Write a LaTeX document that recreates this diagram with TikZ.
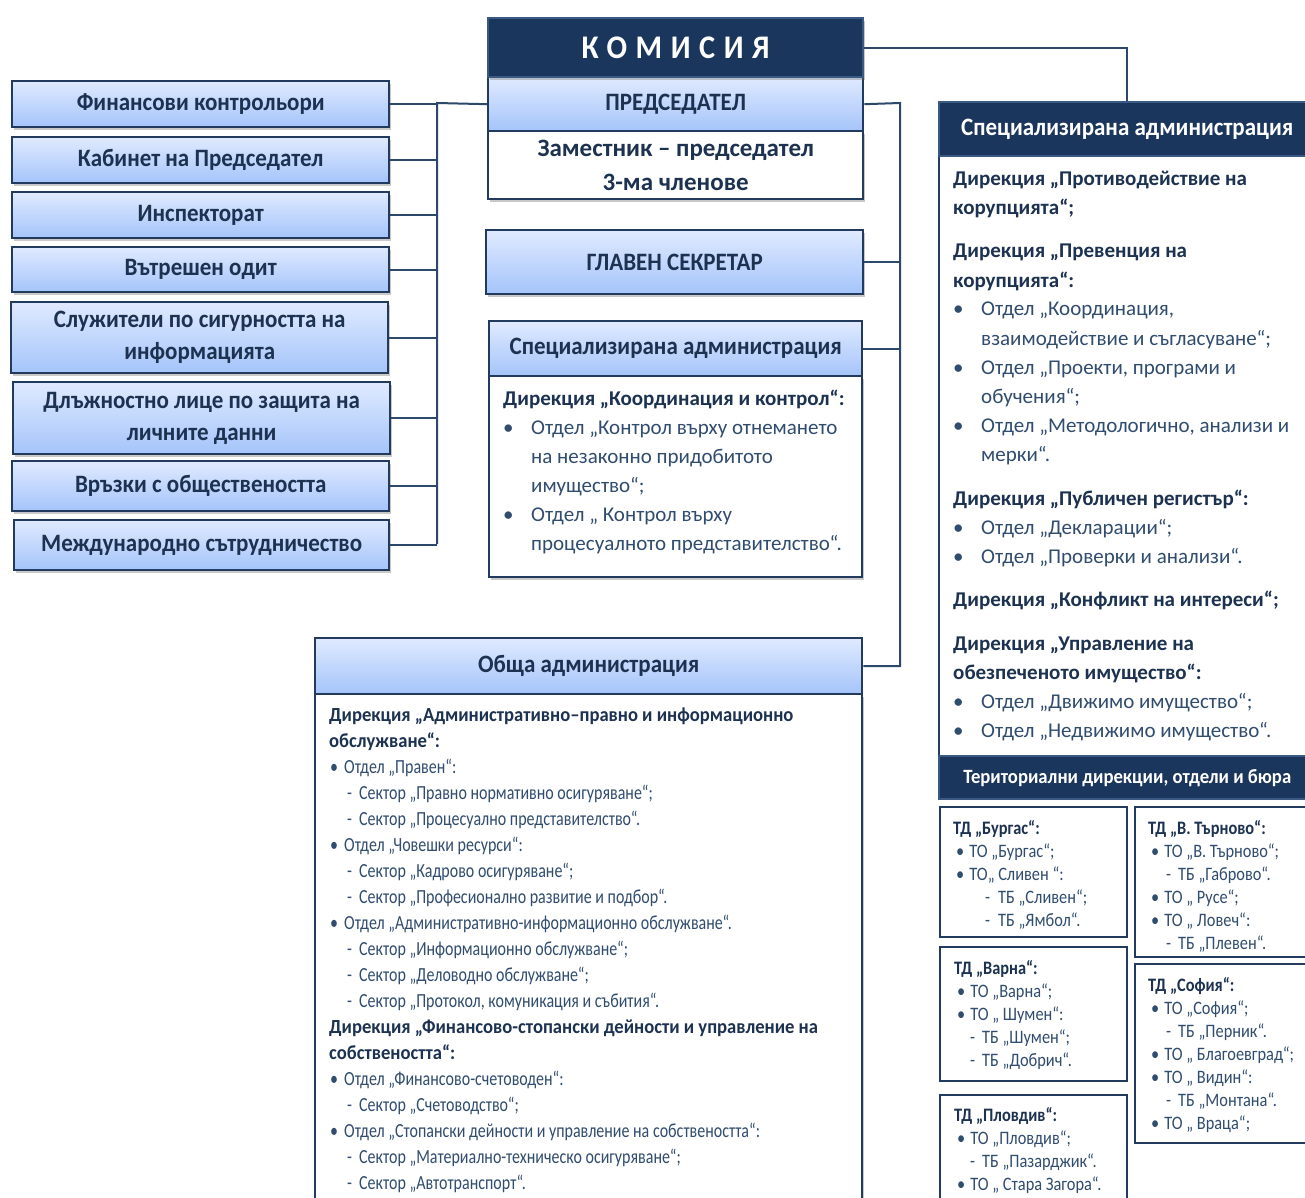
\documentclass[tikz,border=0pt]{standalone}
\usepackage{fontspec}
\setmainfont{Carlito}
\newfontfamily\condA{Carlito}[FakeStretch=0.8]
\newfontfamily\condB{Carlito}[FakeStretch=0.86]
\newfontfamily\headf{Carlito}[FakeStretch=0.92]
\newfontfamily\boldA{Carlito}[FakeStretch=0.93]
\usetikzlibrary{shadows}
\definecolor{navy}{RGB}{27,54,93}
\definecolor{navyedge}{RGB}{58,90,132}
\definecolor{edge}{RGB}{33,58,94}
\definecolor{ink}{RGB}{28,50,80}
\definecolor{soft}{RGB}{48,76,110}
\definecolor{gtop}{RGB}{224,234,255}
\definecolor{gbot}{RGB}{164,196,250}
\definecolor{wirec}{RGB}{44,72,106}
\newcommand{\tbul}[1]{\hspace*{#1}\textbullet}
\newcommand{\spb}{\hspace*{0pt}\makebox[28pt][l]{•}}
\newcommand{\obl}{\hspace*{1pt}\makebox[14pt][l]{•}}
\newcommand{\odl}{\hspace*{18pt}\makebox[12pt][l]{-}}
\begin{document}
\begin{tikzpicture}[x=1pt,y=-1pt,
 sh/.style={drop shadow={shadow xshift=1.5pt,shadow yshift=-3pt,opacity=0.35,fill=black!60}},
 gbox/.style={draw=edge,line width=2.4pt,top color=gtop,bottom color=gbot,text=ink,anchor=north west,inner sep=0pt,align=center,font=\headf\bfseries\fontsize{25}{32}\selectfont},
 nbox/.style={draw=navyedge,line width=2.4pt,fill=navy,text=white,anchor=north west,inner sep=0pt,align=center,font=\headf\bfseries\fontsize{25}{32}\selectfont},
 wbox/.style={draw=edge,line width=2.4pt,fill=white,anchor=north west,inner sep=0pt,align=center},
 txt/.style={anchor=base west,inner sep=0pt,text=soft},
 wire/.style={draw=wirec,line width=2pt}]
\useasboundingbox (0,0) rectangle (1305,1198);
\fill[white] (0,0) rectangle (1305,1198);
\clip (0,0) rectangle (1305,1198);

% left column
\node[gbox,sh,minimum width=377pt,minimum height=46pt] (fin) at (11,80) {Финансови контрольори};
\node[gbox,sh,minimum width=377pt,minimum height=46pt] (kab) at (11,136) {Кабинет на Председател};
\node[gbox,sh,minimum width=377pt,minimum height=46pt] (insp) at (11,191) {Инспекторат};
\node[gbox,sh,minimum width=377pt,minimum height=45pt] (odit) at (11,246) {Вътрешен одит};
\node[gbox,sh,minimum width=377pt,minimum height=71pt] (sig) at (10,301) {Служители по сигурността на\\информацията};
\node[gbox,sh,minimum width=377pt,minimum height=72pt] (dpo) at (12,381) {Длъжностно лице по защита на\\личните данни};
\node[gbox,sh,minimum width=377pt,minimum height=50pt] (pr) at (11,460) {Връзки с обществеността};
\node[gbox,sh,minimum width=375pt,minimum height=50pt] (mez) at (13,519) {Международно сътрудничество};

% centre stack
\node[wbox,sh,minimum width=375pt,minimum height=68pt,text=ink,font=\bfseries\fontsize{25}{34}\selectfont] (zam) at (487,130) {Заместник – председател\\3-ма членове};
\node[gbox,minimum width=375pt,minimum height=54pt] (pred) at (487,76) {ПРЕДСЕДАТЕЛ};
\node[nbox,sh,minimum width=375pt,minimum height=59pt,font=\headf\bfseries\fontsize{33}{36}\selectfont] (kom) at (487,17) {\addfontfeature{LetterSpace=26}КОМИСИЯ};

\node[gbox,sh,minimum width=377pt,minimum height=64pt] (gs) at (485,229) {ГЛАВЕН СЕКРЕТАР};

\node[wbox,sh,minimum width=373pt,minimum height=201pt] (spmb) at (488,375) {};
\node[gbox,minimum width=373pt,minimum height=55pt] (spmh) at (488,320) {Специализирана администрация};
\node[txt,font=\fontsize{21}{29}\selectfont] (spmt) at (503,405) {\parbox[t]{350pt}{\leavevmode\raggedright
{\bfseries\color{ink}Дирекция „Координация и контрол“:}\\
\spb Отдел „Контрол върху отнемането\\
\hspace*{28pt}на незаконно придобитото\\
\hspace*{28pt}имущество“;\\
\spb Отдел „ Контрол върху\\
\hspace*{28pt}процесуалното представителство“.}};

% right column
\node[wbox,minimum width=376pt,minimum height=600pt] (sprb) at (938,155) {};
\node[nbox,minimum width=376pt,minimum height=54pt] (sprh) at (938,101) {Специализирана администрация};
\node[txt,font=\fontsize{21}{29}\selectfont] (sprt) at (953,186) {\parbox[t]{350pt}{\leavevmode\raggedright
{\bfseries\color{ink}Дирекция „Противодействие на\\корупцията“;}\\[14pt]
{\bfseries\color{ink}Дирекция „Превенция на\\корупцията“:}\\
\spb Отдел „Координация,\\
\hspace*{28pt}взаимодействие и съгласуване“;\\
\spb Отдел „Проекти, програми и\\
\hspace*{28pt}обучения“;\\
\spb Отдел „Методологично, анализи и\\
\hspace*{28pt}мерки“.\\[15pt]
{\bfseries\color{ink}Дирекция „Публичен регистър“:}\\
\spb Отдел „Декларации“;\\
\spb Отдел „Проверки и анализи“.\\[14pt]
{\bfseries\color{ink}Дирекция „Конфликт на интереси“;}\\[15pt]
{\bfseries\color{ink}Дирекция „Управление на\\обезпеченото имущество“:}\\
\spb Отдел „Движимо имущество“;\\
\spb Отдел „Недвижимо имущество“.}};

\node[nbox,minimum width=376pt,minimum height=43pt,font=\headf\bfseries\fontsize{20.3}{24}\selectfont] (terh) at (938,755) {Териториални дирекции, отдели и бюра};

\node[wbox,minimum width=187pt,minimum height=130pt] (bur) at (939,806) {};
\node[wbox,minimum width=185pt,minimum height=150pt] (vt) at (1134,806) {};
\node[wbox,minimum width=187pt,minimum height=134pt] (var) at (939,946) {};
\node[wbox,minimum width=185pt,minimum height=179pt] (sof) at (1134,963) {};
\node[wbox,minimum width=187pt,minimum height=130pt] (plo) at (939,1094) {};

\node[txt,font=\condB\fontsize{19}{23}\selectfont] (burt) at (953,834) {\parbox[t]{170pt}{\leavevmode\raggedright
{\bfseries\color{ink}ТД „Бургас“:}\\
\tbul{3pt}\hspace{5pt}ТО „Бургас“;\\
\tbul{3pt}\hspace{5pt}ТО„ Сливен “:\\
\hspace*{32pt}-\hspace{8pt}ТБ „Сливен“;\\
\hspace*{32pt}-\hspace{8pt}ТБ „Ямбол“.}};
\node[txt,font=\condB\fontsize{19}{23}\selectfont] (vtt) at (1148,834) {\parbox[t]{170pt}{\leavevmode\raggedright
{\bfseries\color{ink}ТД „В. Търново“:}\\
\tbul{3pt}\hspace{5pt}ТО „В. Търново“;\\
\hspace*{18pt}-\hspace{7pt}ТБ „Габрово“.\\
\tbul{3pt}\hspace{5pt}ТО „ Русе“;\\
\tbul{3pt}\hspace{5pt}ТО „ Ловеч“:\\
\hspace*{18pt}-\hspace{7pt}ТБ „Плевен“.}};
\node[txt,font=\condB\fontsize{19}{23}\selectfont] (vart) at (954,974) {\parbox[t]{170pt}{\leavevmode\raggedright
{\bfseries\color{ink}ТД „Варна“:}\\
\tbul{3pt}\hspace{5pt}ТО „Варна“;\\
\tbul{3pt}\hspace{5pt}ТО „ Шумен“:\\
\hspace*{16pt}-\hspace{7pt}ТБ „Шумен“;\\
\hspace*{16pt}-\hspace{7pt}ТБ „Добрич“.}};
\node[txt,font=\condB\fontsize{19}{23}\selectfont] (soft) at (1148,991) {\parbox[t]{170pt}{\leavevmode\raggedright
{\bfseries\color{ink}ТД „София“:}\\
\tbul{3pt}\hspace{5pt}ТО „София“;\\
\hspace*{18pt}-\hspace{7pt}ТБ „Перник“.\\
\tbul{3pt}\hspace{5pt}ТО „ Благоевград“;\\
\tbul{3pt}\hspace{5pt}ТО „ Видин“:\\
\hspace*{18pt}-\hspace{7pt}ТБ „Монтана“.\\
\tbul{3pt}\hspace{5pt}ТО „ Враца“;}};
\node[txt,font=\condB\fontsize{19}{23}\selectfont] (plot) at (954,1121) {\parbox[t]{170pt}{\leavevmode\raggedright
{\bfseries\color{ink}ТД „Пловдив“:}\\
\tbul{3pt}\hspace{5pt}ТО „Пловдив“;\\
\hspace*{16pt}-\hspace{7pt}ТБ „Пазарджик“.\\
\tbul{3pt}\hspace{5pt}ТО „ Стара Загора“.}};

% general administration
\node[wbox,sh,minimum width=547pt,minimum height=530pt] (obb) at (314,693) {};
\node[gbox,minimum width=547pt,minimum height=56pt] (obh) at (314,637) {Обща администрация};
\node[txt,font=\condA\fontsize{20}{26}\selectfont] (obt) at (329,721) {\parbox[t]{530pt}{\leavevmode\raggedright
{\boldA\bfseries\color{ink}Дирекция „Административно–правно и информационно\\обслужване“:}\\
\obl Отдел „Правен“:\\
\odl Сектор „Правно нормативно осигуряване“;\\
\odl Сектор „Процесуално представителство“.\\
\obl Отдел „Човешки ресурси“:\\
\odl Сектор „Кадрово осигуряване“;\\
\odl Сектор „Професионално развитие и подбор“.\\
\obl Отдел „Административно-информационно обслужване“.\\
\odl Сектор „Информационно обслужване“;\\
\odl Сектор „Деловодно обслужване“;\\
\odl Сектор „Протокол, комуникация и събития“.\\
{\boldA\bfseries\color{ink}Дирекция „Финансово-стопански дейности и управление на\\собствеността“:}\\
\obl Отдел „Финансово-счетоводен“:\\
\odl Сектор „Счетоводство“;\\
\obl Отдел „Стопански дейности и управление на собствеността“:\\
\odl Сектор „Материално-техническо осигуряване“;\\
\odl Сектор „Автотранспорт“.}};

% connectors
\coordinate (lt) at (437,103);
\coordinate (lbt) at (437,544);
\coordinate (rt) at (900,103);
\draw[wire] (pred.west) -- (lt) -- (lbt);
\foreach \n in {fin,kab,insp,odit,sig,dpo,pr,mez} \draw[wire] (\n.east) -- (\n.east -| lt);
\draw[wire] (pred.east) -- (rt) |- (obh.east);
\foreach \n in {gs,spmh} \draw[wire] (\n.east) -- (\n.east -| rt);
\draw[wire] (kom.east) -| (sprh.north);
\end{tikzpicture}
\end{document}
